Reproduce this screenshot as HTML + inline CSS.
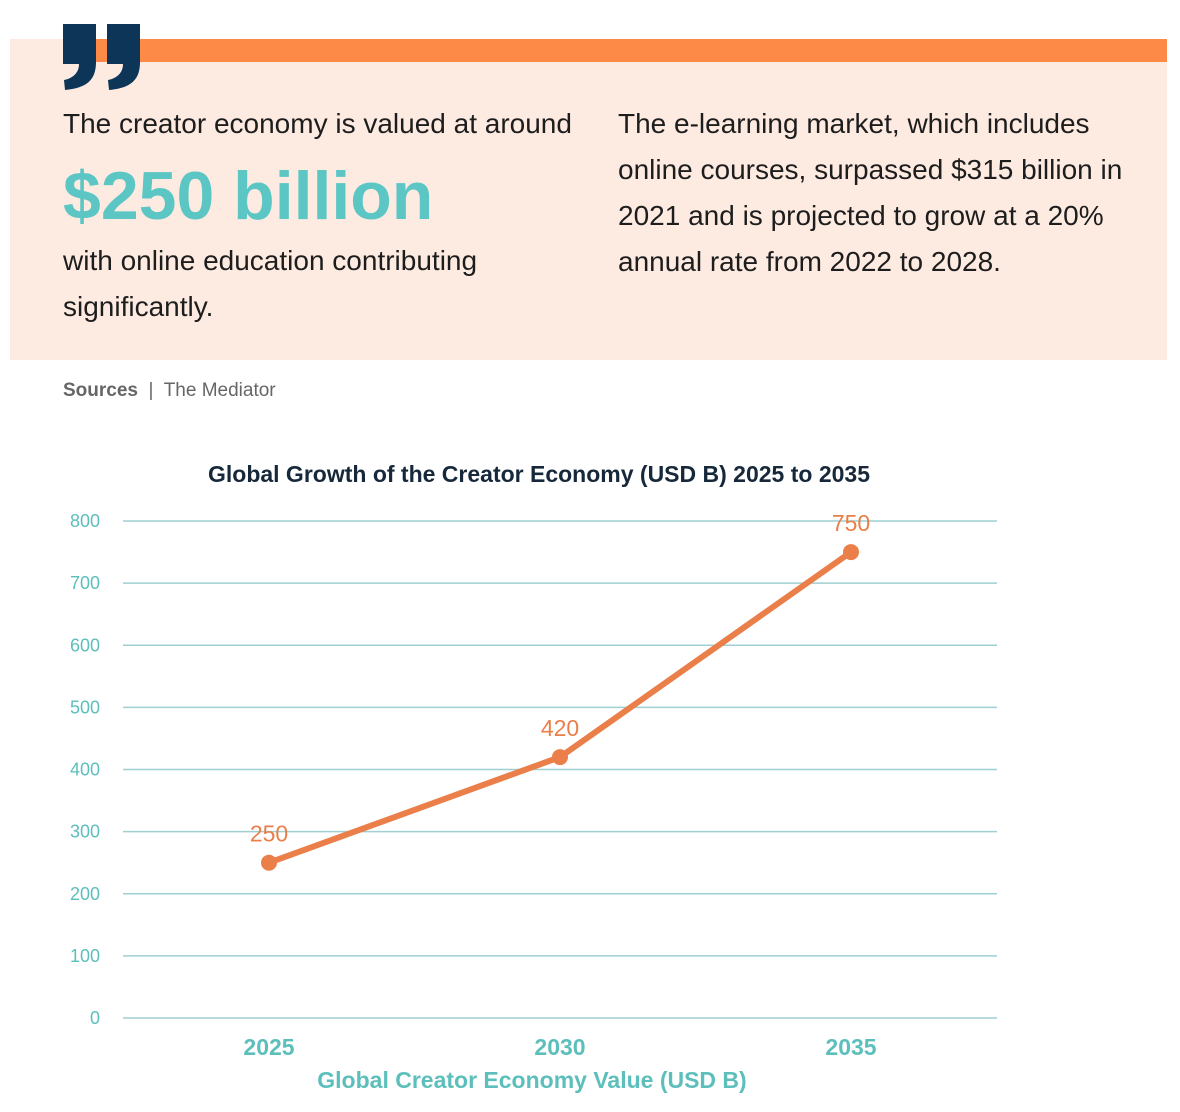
<!DOCTYPE html>
<html><head><meta charset="utf-8"><style>
*{margin:0;padding:0;box-sizing:border-box}
body{width:1180px;height:1112px;background:#fff;position:relative;font-family:"Liberation Sans",sans-serif;overflow:hidden}
.abs{position:absolute}
.panel{left:10px;top:39px;width:1157px;height:321px;background:#fdebe2}
.bar{left:70px;top:39px;width:1097px;height:23px;background:#fe8a47}
.t{color:#1d1d1d;font-size:28px;line-height:46px}
</style></head><body>
<div class="abs panel"></div>
<div class="abs bar"></div>
<svg class="abs" style="left:0;top:0" width="160" height="100">
<path d="M63,24 H96 V62 C96,79 88,88 65,90 L64,80 C74,78 79,72 79,64 H63 Z" fill="#0d3558"/>
<path d="M107,24 H140 V62 C140,79 132,88 109,90 L108,80 C118,78 123,72 123,64 H107 Z" fill="#0d3558"/>
</svg>
<div class="abs t" style="left:63px;top:101px;white-space:nowrap">The creator economy is valued at around</div>
<div class="abs" style="left:63px;top:156px;font-size:68px;font-weight:bold;color:#5cc6c5;line-height:80px">$250 billion</div>
<div class="abs t" style="left:63px;top:238px;width:500px">with online education contributing significantly.</div>
<div class="abs t" style="left:618px;top:101px;width:515px">The e-learning market, which includes online courses, surpassed $315 billion in 2021 and is projected to grow at a 20% annual rate from 2022 to 2028.</div>
<div class="abs" style="left:63px;top:380px;font-size:19px;color:#666"><b>Sources</b> &nbsp;|&nbsp; The Mediator</div>
<div class="abs" style="left:0;width:1078px;top:461px;text-align:center;font-size:23px;font-weight:bold;color:#16283a">Global Growth of the Creator Economy (USD B) 2025 to 2035</div>
<svg id="chart" class="abs" style="left:0;top:0" width="1180" height="1112"></svg>
<script>
const categories=["2025","2030","2035"];
const values=[250,420,750];
const ticks=[0,100,200,300,400,500,600,700,800];
const svg=document.getElementById('chart');
const NS='http://www.w3.org/2000/svg';
const x0=123,x1=997,y0=1018,y1=521,maxV=800;
function yS(v){return y0-(v/maxV)*(y0-y1);}
function xS(i){return 269+i*291;}
function mk(t,a){const e=document.createElementNS(NS,t);for(const k in a)e.setAttribute(k,a[k]);svg.appendChild(e);return e;}
ticks.forEach(v=>{
const g=mk('line',{x1:x0,x2:x1,y1:yS(v),y2:yS(v),stroke:'#9fcfd0','stroke-width':1.5});


const t=mk('text',{x:100,y:yS(v)+6,'text-anchor':'end','font-size':18,fill:'#5cbfbb','font-family':'Liberation Sans'});
t.textContent=v;


});
categories.forEach((c,i)=>{
const t=mk('text',{x:xS(i),y:1055,'text-anchor':'middle','font-size':23,'font-weight':'bold',fill:'#5cbfbb','font-family':'Liberation Sans'});
t.textContent=c;


});
const p=mk('polyline',{points:values.map((v,i)=>xS(i)+','+yS(v)).join(' '),fill:'none',stroke:'#ea7f4a','stroke-width':6,'stroke-linejoin':'round'});


values.forEach((v,i)=>{
const c=mk('circle',{cx:xS(i),cy:yS(v),r:8,fill:'#ea7f4a'});


const t=mk('text',{x:xS(i),y:yS(v)-21,'text-anchor':'middle','font-size':23,fill:'#ea7f4a','font-family':'Liberation Sans'});
t.textContent=v;


});
const xt=mk('text',{x:532,y:1088,'text-anchor':'middle','font-size':23,'font-weight':'bold',fill:'#5cbfbb','font-family':'Liberation Sans'});
xt.textContent='Global Creator Economy Value (USD B)';


</script>
</body></html>
